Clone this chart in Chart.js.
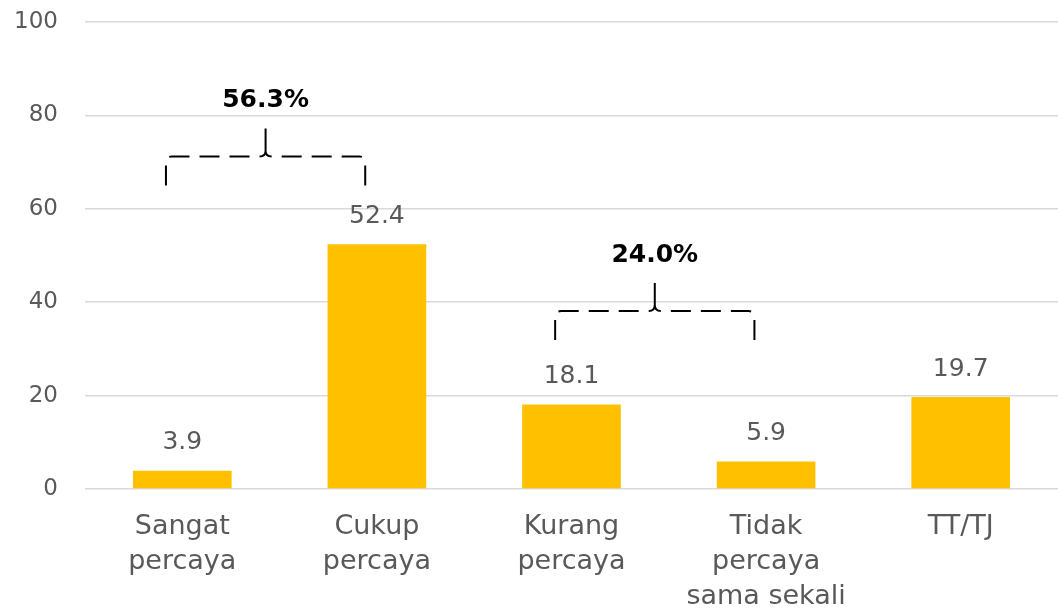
<!DOCTYPE html>
<html>
<head>
<meta charset="utf-8">
<script src="https://cdn.jsdelivr.net/npm/chart.js@4.4.0/dist/chart.umd.min.js"></script>
<style>
  html, body { margin: 0; padding: 0; background: #ffffff; }
  #wrap { width: 1058px; height: 612px; position: relative; }
</style>
</head>
<body>
<div id="wrap"><canvas id="c" width="1058" height="612"></canvas></div>
<script>
// ---- data ----
const categories = [["Sangat", "percaya"], ["Cukup", "percaya"], ["Kurang", "percaya"], ["Tidak", "percaya", "sama sekali"], ["TT/TJ"]];
const values = [3.9, 52.4, 18.1, 5.9, 19.7];
const yTicks = [0, 20, 40, 60, 80, 100];
const groupFrom = [0, 2];
const groupTo = [1, 3];
const groupLabels = ["56.3%", "24.0%"];
const groupLevels = [71.2, 38.1];

const FONT = "'DejaVu Sans', sans-serif";
const GREY = "#595959";

const valueLabels = {
  id: 'valueLabels',
  afterDatasetsDraw(chart) {
    const ctx = chart.ctx;
    const meta = chart.getDatasetMeta(0);
    ctx.save();
    ctx.font = "25px " + FONT;
    ctx.fillStyle = GREY;
    ctx.textAlign = 'center';
    ctx.textBaseline = 'middle';
    meta.data.forEach((bar, i) => {
      ctx.fillText(values[i].toFixed(1), bar.x, bar.y - 28);
    });
    ctx.restore();
  }
};

const braces = {
  id: 'braces',
  afterDatasetsDraw(chart) {
    const ctx = chart.ctx;
    const xs = chart.scales.x, ys = chart.scales.y;
    const cw = xs.getPixelForValue(1) - xs.getPixelForValue(0);
    ctx.save();
    ctx.strokeStyle = '#000';
    ctx.lineWidth = 2;
    groupLabels.forEach((lab, g) => {
      const x0 = xs.getPixelForValue(groupFrom[g]) - 0.084 * cw;
      const x1 = xs.getPixelForValue(groupTo[g]) - 0.06 * cw;
      const xm = (x0 + x1) / 2;
      const yl = ys.getPixelForValue(groupLevels[g]);
      const yb = ys.getPixelForValue(groupLevels[g] - 6.2);
      const yp = ys.getPixelForValue(groupLevels[g] + 6);
      const r = 6;
      ctx.setLineDash([20, 10]);
      ctx.beginPath();
      ctx.moveTo(x0, yb);
      ctx.lineTo(x0, yl + r);
      ctx.quadraticCurveTo(x0, yl, x0 + r, yl);
      ctx.lineTo(xm - r, yl);
      ctx.stroke();
      ctx.beginPath();
      ctx.moveTo(x1, yb);
      ctx.lineTo(x1, yl + r);
      ctx.quadraticCurveTo(x1, yl, x1 - r, yl);
      ctx.lineTo(xm + r, yl);
      ctx.stroke();
      ctx.setLineDash([]);
      ctx.beginPath();
      ctx.moveTo(xm - r, yl);
      ctx.quadraticCurveTo(xm, yl, xm, yl - r);
      ctx.lineTo(xm, yp);
      ctx.moveTo(xm, yl - r);
      ctx.quadraticCurveTo(xm, yl, xm + r, yl);
      ctx.stroke();
      ctx.font = "bold 25px " + FONT;
      ctx.fillStyle = '#000';
      ctx.textAlign = 'center';
      ctx.textBaseline = 'middle';
      ctx.fillText(lab, xm, ys.getPixelForValue(groupLevels[g] + 12));
    });
    ctx.restore();
  }
};

new Chart(document.getElementById('c'), {
  type: 'bar',
  data: {
    labels: categories,
    datasets: [{
      data: values,
      backgroundColor: '#FFC000',
      borderWidth: 0,
      categoryPercentage: 1.0,
      barPercentage: 0.507
    }]
  },
  options: {
    responsive: false,
    animation: false,
    devicePixelRatio: 1,
    layout: { padding: { top: 22, right: 0, left: 0, bottom: 0 } },
    plugins: { legend: { display: false }, tooltip: { enabled: false } },
    scales: {
      x: {
        grid: { display: false, drawTicks: false },
        border: { display: false },
        ticks: { color: GREY, font: { family: FONT, size: 27, lineHeight: 1.3 }, padding: 20, maxRotation: 0, autoSkip: false },
        afterFit(s) { s.height = 123; s.paddingLeft = 0; s.paddingRight = 0; }
      },
      y: {
        min: 0, max: 100,
        afterBuildTicks(s) { s.ticks = yTicks.map(v => ({ value: v })); },
        grid: { color: '#d9d9d9', lineWidth: 1.5, drawTicks: false },
        border: { display: false },
        ticks: { color: GREY, font: { family: FONT, size: 23 }, padding: 27 },
        afterFit(s) { s.width = 85; s.paddingTop = 0; s.paddingBottom = 0; }
      }
    }
  },
  plugins: [valueLabels, braces]
});
</script>
</body>
</html>
